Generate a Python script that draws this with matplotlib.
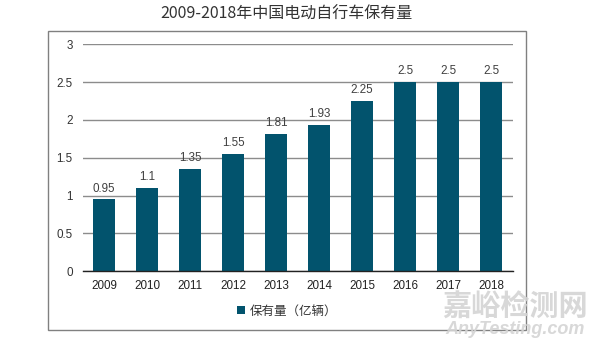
import matplotlib
matplotlib.use("Agg")
import matplotlib.pyplot as plt
from matplotlib.patches import Rectangle
import numpy as np

years = ["2009", "2010", "2011", "2012", "2013", "2014", "2015", "2016", "2017", "2018"]
stock = [0.95, 1.1, 1.35, 1.55, 1.81, 1.93, 2.25, 2.5, 2.5, 2.5]
value_labels = ["0.95", "1.1", "1.35", "1.55", "1.81", "1.93", "2.25", "2.5", "2.5", "2.5"]
y_ticks = [0, 0.5, 1, 1.5, 2, 2.5, 3]
y_tick_labels = ["0", "0.5", "1", "1.5", "2", "2.5", "3"]

title = "2009-2018年中国电动自行车保有量"
legend_label = "保有量（亿辆）"

BAR_COLOR = "#02536d"
CJK = ["Noto Sans CJK SC", "DejaVu Sans"]
LATIN = ["Liberation Sans", "DejaVu Sans"]

W, H = 596, 347
fig = plt.figure(figsize=(W / 100, H / 100), dpi=100)

# outer chart frame
fig.patches.append(Rectangle((47.5 / W, 1 - 330 / H), (526 - 47.5) / W, (330 - 30.7) / H,
                             transform=fig.transFigure, fill=False,
                             edgecolor="#808080", linewidth=1.0))

ax = fig.add_axes([82.5 / W, 1 - 271.3 / H, (512.5 - 82.5) / W, (271.3 - 44.3) / H])
x = np.arange(len(years))
bars = ax.bar(x, stock, width=0.51, color=BAR_COLOR, label=legend_label, zorder=3)

for b, lab in zip(bars, value_labels):
    ax.annotate(lab, (b.get_x() + b.get_width() / 2, b.get_height()),
                xytext=(0, 3.5), textcoords="offset points", ha="center", va="bottom",
                fontsize=8.4, color="#404040", family=LATIN)

ax.set_xlim(-0.5, len(years) - 0.5)
ax.set_ylim(0, 3)
ax.set_yticks(y_ticks)
ax.set_yticklabels(y_tick_labels, family=LATIN, fontsize=8.4, color="#333333")
ax.set_xticks(x)
ax.set_xticklabels(years, family=LATIN, fontsize=8.4, color="#222222")
ax.tick_params(axis="both", length=0)
ax.tick_params(axis="y", pad=7)
ax.tick_params(axis="x", pad=6)
ax.grid(axis="y", color="#8c8c8c", linewidth=1.0, zorder=0)
for s in ["top", "right", "left"]:
    ax.spines[s].set_visible(False)
ax.spines["bottom"].set_color("#222222")
ax.spines["bottom"].set_linewidth(1.0)
ax.spines["bottom"].set_zorder(4)

fig.text(286 / W, 1 - 14 / H, title, ha="center", va="center",
         fontsize=11.5, family=CJK, color="#333333")

leg = fig.legend(loc="center", bbox_to_anchor=(287 / W, 1 - 311 / H), frameon=False,
                 handlelength=0.6, handleheight=0.6, handletextpad=0.4,
                 prop={"family": CJK, "size": 9})
for t in leg.get_texts():
    t.set_color("#333333")

# watermark
fig.text(515 / W, 1 - 307 / H, "嘉峪检测网", ha="center", va="center",
         fontsize=21, family=CJK, fontweight="bold", color="#d4d4d4", alpha=0.9)
fig.text(515 / W, 1 - 329 / H, "AnyTesting.com", ha="center", va="center",
         fontsize=13, family=LATIN, fontweight="bold", style="italic",
         color="#d4d4d4", alpha=0.9)

fig.savefig("out.png", dpi=100)
